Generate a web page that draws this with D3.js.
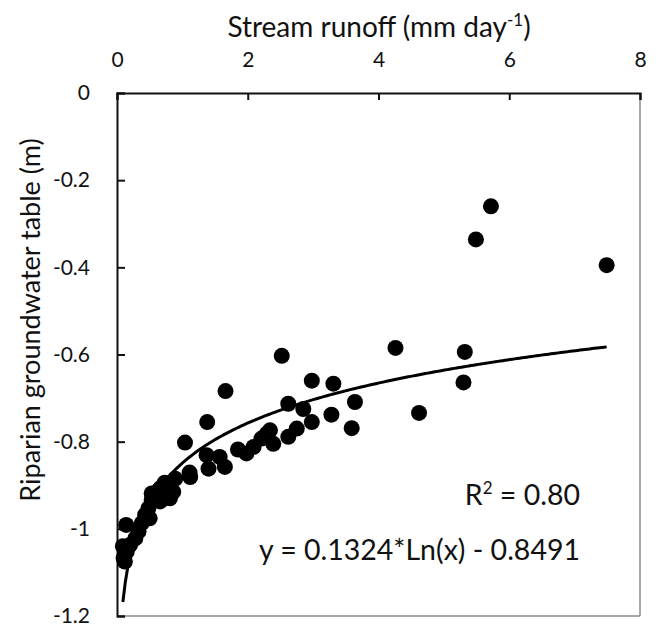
<!DOCTYPE html>
<html>
<head>
<meta charset="utf-8">
<script src="https://cdn.jsdelivr.net/npm/d3@7"></script>
<style>
  body { margin: 0; background: #fff; }
  svg text { font-family: Lato, "Open Sans", sans-serif; fill: #111; }
</style>
</head>
<body>
<svg width="659" height="626"></svg>
<script>
// runoff (mm/day) vs riparian groundwater table (m)
var runoff = [5.72, 5.49, 7.49, 4.26, 5.32, 5.30, 4.62, 2.52, 2.98, 3.31,
    3.64, 3.59, 3.28, 2.98, 2.85, 2.62, 1.66, 1.38, 1.04, 2.75,
    2.62, 2.34, 2.21, 2.39, 2.29, 2.09, 1.98, 1.85, 1.57, 1.65,
    1.37, 1.40, 1.11, 0.89, 0.73, 0.81, 0.66, 0.66, 0.53, 0.53,
    0.48, 0.43, 0.38, 0.33, 0.28, 0.20, 0.15, 0.10, 0.14, 0.09,
    0.12, 0.61, 1.12, 0.86, 0.50];
var gwTable = [-0.26, -0.336, -0.395, -0.585, -0.594, -0.664, -0.734, -0.603, -0.66, -0.667,
    -0.709, -0.769, -0.738, -0.755, -0.725, -0.713, -0.684, -0.755, -0.802, -0.770,
    -0.789, -0.774, -0.793, -0.805, -0.782, -0.812, -0.827, -0.818, -0.835, -0.858,
    -0.831, -0.862, -0.871, -0.885, -0.894, -0.930, -0.907, -0.937, -0.919, -0.934,
    -0.953, -0.968, -0.987, -1.006, -1.022, -1.037, -1.052, -1.067, -0.991, -1.04,
    -1.075, -0.915, -0.881, -0.915, -0.976];
var xTicks = [0, 2, 4, 6, 8];
var yTicks = [0, -0.2, -0.4, -0.6, -0.8, -1, -1.2];
var fitA = 0.1324, fitB = -0.8491;

var svg = d3.select("svg");
var margin = {top: 93, right: 19, bottom: 10, left: 117},
    width = 659 - margin.left - margin.right,
    height = 626 - margin.top - margin.bottom;

var g = svg.append("g").attr("transform", "translate(" + margin.left + "," + margin.top + ")");

var x = d3.scaleLinear().domain([0, 8]).range([0, width]);
var y = d3.scaleLinear().domain([-1.2, 0]).range([height, 0]);

// frame (right and bottom edges are grey in the original)
g.append("line").attr("x1", width).attr("x2", width).attr("y1", 0).attr("y2", height)
    .attr("stroke", "#8a8a8a").attr("stroke-width", 1.5);
g.append("line").attr("x1", 0).attr("x2", width).attr("y1", height).attr("y2", height)
    .attr("stroke", "#8a8a8a").attr("stroke-width", 1.5);

var xAxis = g.append("g")
    .call(d3.axisTop(x).tickValues(xTicks).tickSize(-7).tickPadding(26).tickFormat(d3.format("d")));
var yAxis = g.append("g")
    .call(d3.axisLeft(y).tickValues(yTicks).tickSize(-8).tickPadding(27)
        .tickFormat(function (d) { return d === 0 ? "0" : d3.format("")(d).replace("−", "-"); }));

[xAxis, yAxis].forEach(function (a) {
    a.select(".domain").attr("stroke", "#111").attr("stroke-width", 2);
    a.selectAll(".tick line").attr("stroke", "#111").attr("stroke-width", 2);
    a.selectAll(".tick text").attr("font-size", 21).attr("fill", "#111");
});

// fitted log curve
var lineX = d3.range(0, 201).map(function (i) {
    return d3.min(runoff) + (d3.max(runoff) - d3.min(runoff)) * i / 200;
});
g.append("path")
    .datum(lineX)
    .attr("fill", "none")
    .attr("stroke", "#000")
    .attr("stroke-width", 3)
    .attr("d", d3.line()
        .x(function (d) { return x(d); })
        .y(function (d) { return y(fitA * Math.log(d) + fitB); }));

g.selectAll(".dot")
    .data(runoff)
    .enter().append("circle")
    .attr("class", "dot")
    .attr("cx", function (d) { return x(d); })
    .attr("cy", function (d, i) { return y(gwTable[i]); })
    .attr("r", 8)
    .attr("fill", "#000");

// titles
var xt = svg.append("text").attr("x", 379).attr("y", 37).attr("text-anchor", "middle").attr("font-size", 28);
xt.append("tspan").text("Stream runoff (mm day");
xt.append("tspan").attr("font-size", 17).attr("dy", -11).text("-1");
xt.append("tspan").attr("dy", 11).text(")");

svg.append("text")
    .attr("transform", "translate(40,320) rotate(-90)")
    .attr("text-anchor", "middle")
    .attr("font-size", 27)
    .text("Riparian groundwater table (m)");

var r2 = svg.append("text").attr("x", 580).attr("y", 505).attr("text-anchor", "end").attr("font-size", 28.5);
r2.append("tspan").text("R");
r2.append("tspan").attr("font-size", 17).attr("dy", -11).text("2");
r2.append("tspan").attr("dy", 11).text(" = 0.80");

svg.append("text").attr("x", 580).attr("y", 560).attr("text-anchor", "end").attr("font-size", 28.5)
    .text("y = 0.1324*Ln(x) - 0.8491");
</script>
</body>
</html>
